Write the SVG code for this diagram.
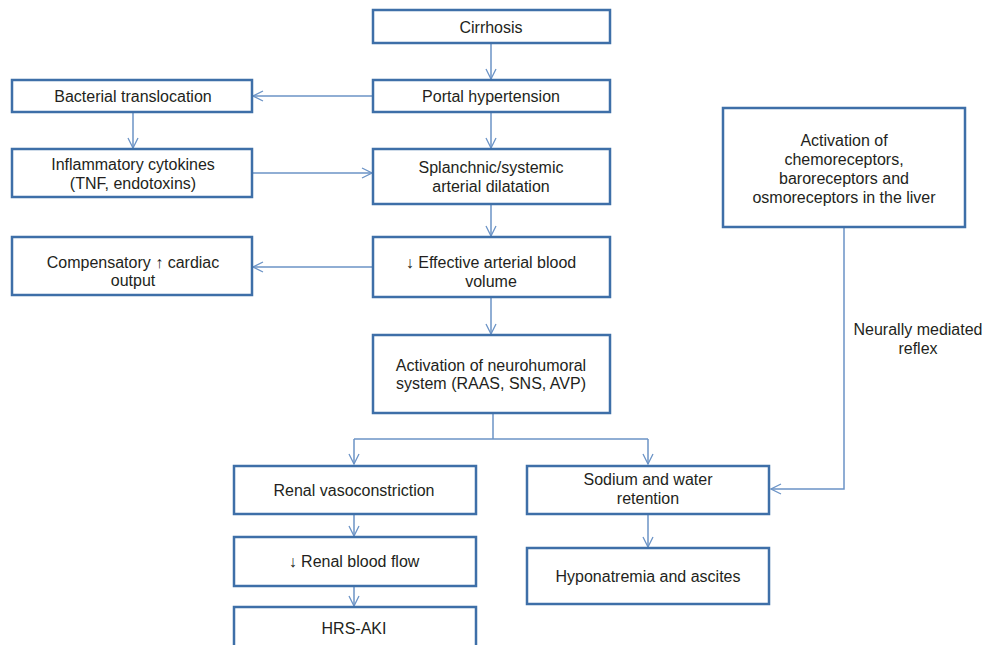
<svg xmlns="http://www.w3.org/2000/svg" width="984" height="645" viewBox="0 0 984 645">
<defs>
<style>
.box{fill:#fff;stroke:#3e6fa8;stroke-width:2.5}
.t{font-family:"Liberation Sans","DejaVu Sans",Arial,sans-serif;font-size:16px;fill:#231f20;text-anchor:middle;dominant-baseline:central}
.c{fill:none;stroke:#6b93c6;stroke-width:1.5}
</style>
<marker id="a" viewBox="0 0 12 12" refX="11" refY="6" markerWidth="12" markerHeight="12" markerUnits="userSpaceOnUse" orient="auto">
<path d="M1,1 L11,6 L1,11" fill="none" stroke="#6b93c6" stroke-width="1.3"/>
</marker>
</defs>
<rect width="984" height="645" fill="#fff"/>
<g id="connectors">
<path class="c" d="M491,43 V79" marker-end="url(#a)"/>
<path class="c" d="M373,96 H253" marker-end="url(#a)"/>
<path class="c" d="M133,112 V148" marker-end="url(#a)"/>
<path class="c" d="M252,173 H372" marker-end="url(#a)"/>
<path class="c" d="M491,112 V148" marker-end="url(#a)"/>
<path class="c" d="M491,204 V236" marker-end="url(#a)"/>
<path class="c" d="M373,267 H253" marker-end="url(#a)"/>
<path class="c" d="M491,297 V334" marker-end="url(#a)"/>
<path class="c" d="M493,413 V439"/>
<path class="c" d="M354,439 H648"/>
<path class="c" d="M354,439 V464" marker-end="url(#a)"/>
<path class="c" d="M648,439 V464" marker-end="url(#a)"/>
<path class="c" d="M354,514 V536" marker-end="url(#a)"/>
<path class="c" d="M354,586 V606" marker-end="url(#a)"/>
<path class="c" d="M648,514 V547" marker-end="url(#a)"/>
<path class="c" d="M844,227 V489 H771" marker-end="url(#a)"/>
<text class="t" x="918" y="329">Neurally mediated</text>
<text class="t" x="918" y="348">reflex</text>
</g>
<g id="cirrhosis"><rect class="box" x="373" y="10" width="237" height="33"/><text class="t" x="491" y="27">Cirrhosis</text></g>
<g id="portal"><rect class="box" x="373" y="80" width="237" height="32"/><text class="t" x="491" y="96">Portal hypertension</text></g>
<g id="bacterial"><rect class="box" x="12" y="80" width="240" height="32"/><text class="t" x="133" y="96">Bacterial translocation</text></g>
<g id="inflammatory"><rect class="box" x="12" y="149" width="240" height="48"/><text class="t" x="133" y="164">Inflammatory cytokines</text><text class="t" x="133" y="183">(TNF, endotoxins)</text></g>
<g id="splanchnic"><rect class="box" x="373" y="149" width="237" height="55"/><text class="t" x="491" y="167">Splanchnic/systemic</text><text class="t" x="491" y="186">arterial dilatation</text></g>
<g id="compensatory"><rect class="box" x="12" y="237" width="240" height="58"/><text class="t" x="133" y="262">Compensatory ↑ cardiac</text><text class="t" x="133" y="280">output</text></g>
<g id="effective"><rect class="box" x="373" y="237" width="237" height="60"/><text class="t" x="491" y="262">↓ Effective arterial blood</text><text class="t" x="491" y="281">volume</text></g>
<g id="neurohumoral"><rect class="box" x="373" y="335" width="237" height="78"/><text class="t" x="491" y="365">Activation of neurohumoral</text><text class="t" x="491" y="383">system (RAAS, SNS, AVP)</text></g>
<g id="renalvaso"><rect class="box" x="234" y="466" width="242" height="48"/><text class="t" x="354" y="490">Renal vasoconstriction</text></g>
<g id="renalflow"><rect class="box" x="234" y="537" width="242" height="49"/><text class="t" x="354" y="561">↓ Renal blood flow</text></g>
<g id="hrs"><rect class="box" x="234" y="607" width="242" height="50"/><text class="t" x="354" y="628">HRS-AKI</text></g>
<g id="sodium"><rect class="box" x="527" y="466" width="242" height="48"/><text class="t" x="648" y="479">Sodium and water</text><text class="t" x="648" y="498">retention</text></g>
<g id="hyponatremia"><rect class="box" x="527" y="548" width="242" height="56"/><text class="t" x="648" y="576">Hyponatremia and ascites</text></g>
<g id="chemo"><rect class="box" x="723" y="108" width="242" height="119"/><text class="t" x="844" y="140">Activation of</text><text class="t" x="844" y="159">chemoreceptors,</text><text class="t" x="844" y="178">baroreceptors and</text><text class="t" x="844" y="197">osmoreceptors in the liver</text></g>
</svg>
